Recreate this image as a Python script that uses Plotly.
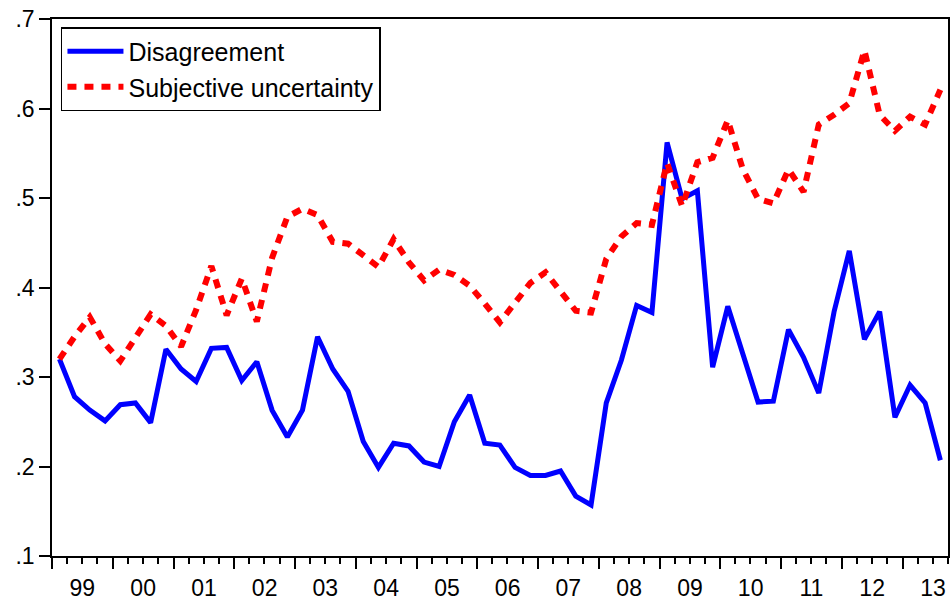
import pandas as pd
import plotly.graph_objects as go

# quarterly observations, 1999Q1 .. 2013Q3
quarters = pd.period_range("1999Q1", "2013Q3", freq="Q")

disagreement = [
    0.320, 0.278, 0.263, 0.251, 0.269, 0.271, 0.249, 0.331,
    0.309, 0.295, 0.332, 0.333, 0.296, 0.317, 0.263, 0.233,
    0.263, 0.345, 0.309, 0.284, 0.228, 0.199, 0.226, 0.223,
    0.205, 0.200, 0.250, 0.280, 0.226, 0.224, 0.199, 0.190,
    0.190, 0.195, 0.167, 0.157, 0.271, 0.319, 0.380, 0.372,
    0.562, 0.499, 0.508, 0.311, 0.379, 0.324, 0.272, 0.273,
    0.353, 0.322, 0.282, 0.373, 0.441, 0.342, 0.373, 0.255,
    0.291, 0.271, 0.207,
]

subjective_uncertainty = [
    0.320, 0.345, 0.367, 0.337, 0.318, 0.345, 0.370, 0.357,
    0.334, 0.375, 0.424, 0.369, 0.410, 0.362, 0.433, 0.479,
    0.488, 0.481, 0.451, 0.449, 0.436, 0.423, 0.454, 0.428,
    0.408, 0.420, 0.414, 0.402, 0.382, 0.361, 0.383, 0.405,
    0.417, 0.396, 0.374, 0.372, 0.432, 0.457, 0.472, 0.470,
    0.539, 0.491, 0.540, 0.545, 0.587, 0.532, 0.499, 0.494,
    0.532, 0.507, 0.582, 0.593, 0.606, 0.665, 0.593, 0.575,
    0.591, 0.582, 0.621,
]

y_ticks = [0.1, 0.2, 0.3, 0.4, 0.5, 0.6, 0.7]
y_labels = [".1", ".2", ".3", ".4", ".5", ".6", ".7"]

# plot each quarter at its midpoint, like EViews does
starts = quarters.start_time
ends = quarters.end_time
x_dates = starts + (ends - starts) / 2

font_family = "Liberation Sans, Arial, sans-serif"

fig = go.Figure()
fig.add_trace(go.Scatter(
    x=x_dates, y=disagreement, name="Disagreement", mode="lines",
    line=dict(color="#0000FF", width=5),
))
fig.add_trace(go.Scatter(
    x=x_dates, y=subjective_uncertainty, name="Subjective uncertainty", mode="lines",
    line=dict(color="#FF0000", width=6, dash="9px,8px"),
))

fig.update_layout(
    width=952, height=603,
    margin=dict(l=52, r=2, t=19, b=45),
    plot_bgcolor="white", paper_bgcolor="white",
    font=dict(family=font_family, color="black", size=23),
    showlegend=True,
    legend=dict(
        x=0.010, y=0.985, xanchor="left", yanchor="top",
        bgcolor="white", bordercolor="black", borderwidth=1.5,
        font=dict(size=25), itemwidth=56, tracegroupgap=0,
    ),
    xaxis=dict(
        type="date",
        range=["1999-01-01", "2013-10-01"],
        tick0="1999-01-01", dtick="M12",
        tickformat="%y", ticklabelmode="period",
        ticks="outside", ticklen=11, tickwidth=1.5, tickcolor="black",
        minor=dict(dtick="M3", ticks="outside", ticklen=6, tickwidth=1.5, tickcolor="black"),
        showgrid=False, zeroline=False,
        showline=True, linecolor="black", linewidth=1.5, mirror=True,
    ),
    yaxis=dict(
        range=[0.1, 0.7],
        tickmode="array", tickvals=y_ticks, ticktext=y_labels,
        ticks="outside", ticklen=11, tickwidth=1.5, tickcolor="black",
        showgrid=False, zeroline=False,
        showline=True, linecolor="black", linewidth=1.5, mirror=True,
    ),
)

# the page has a default 8px body margin; drop it so the figure fills the window
fig.write_html(
    "out.html",
    config={"displayModeBar": False},
    post_script="document.body.style.margin = '0';",
)
